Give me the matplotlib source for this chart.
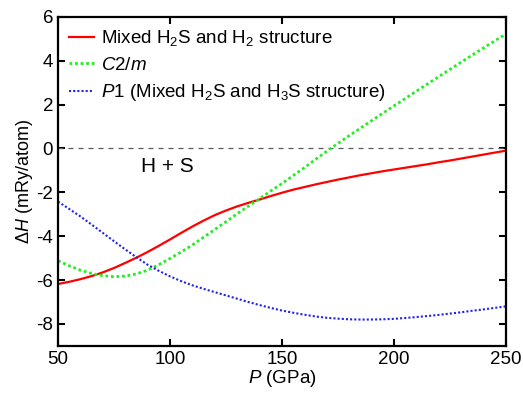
import numpy as np
import matplotlib
matplotlib.use('Agg')
import matplotlib.pyplot as plt

# pressure grid (GPa)
pressure = [50, 55, 60, 65, 70, 75, 80, 85, 90, 95, 100, 105, 110, 115, 120, 125, 130, 135, 140, 145,
            150, 155, 160, 165, 170, 175, 180, 185, 190, 195, 200, 205, 210, 215, 220, 225, 230, 235,
            240, 245, 250]

# enthalpy differences relative to H + S (mRy/atom)
dh_mixed_h2 = [-6.18, -6.08, -5.96, -5.82, -5.65, -5.45, -5.22, -4.98, -4.72, -4.44, -4.15, -3.85,
               -3.56, -3.29, -3.04, -2.83, -2.64, -2.48, -2.33, -2.17, -2.02, -1.88, -1.76, -1.64,
               -1.53, -1.42, -1.32, -1.22, -1.13, -1.04, -0.96, -0.88, -0.80, -0.72, -0.63, -0.55,
               -0.46, -0.37, -0.28, -0.19, -0.10]
dh_c2m = [-5.12, -5.35, -5.55, -5.70, -5.80, -5.85, -5.82, -5.72, -5.55, -5.30, -5.02, -4.72,
          -4.40, -4.05, -3.70, -3.34, -2.98, -2.63, -2.29, -1.94, -1.60, -1.24, -0.88, -0.50,
          -0.13, 0.23, 0.58, 0.92, 1.26, 1.60, 1.94, 2.27, 2.61, 2.94, 3.27, 3.60,
          3.93, 4.26, 4.58, 4.90, 5.22]
dh_p1 = [-2.42, -2.76, -3.10, -3.47, -3.85, -4.23, -4.60, -4.96, -5.30, -5.58, -5.83, -6.05,
         -6.24, -6.40, -6.55, -6.70, -6.85, -7.00, -7.14, -7.27, -7.39, -7.49, -7.58, -7.66,
         -7.72, -7.76, -7.79, -7.80, -7.80, -7.79, -7.77, -7.73, -7.69, -7.64, -7.59, -7.53,
         -7.47, -7.40, -7.34, -7.27, -7.20]

labels = ['Mixed H$_2$S and H$_2$ structure',
          '$\\it{C}$2/$\\it{m}$',
          '$\\it{P}$1 (Mixed H$_2$S and H$_3$S structure)']

xticks = [50, 100, 150, 200, 250]
yticks = [-8, -6, -4, -2, 0, 2, 4, 6]


def setFont(fontSize):
    params = {
              'font.size': fontSize,
              'font.family': 'Liberation Sans',
              'mathtext.fontset': 'custom',
              'mathtext.rm': 'Liberation Sans',
              'mathtext.it': 'Liberation Sans:italic',
              'mathtext.bf': 'Liberation Sans:bold',
              'axes.unicode_minus': False,
              }
    plt.rcParams.update(params)


setFont(13.5)
fig = plt.figure(figsize=(5.23, 3.93), dpi=100)
ax = fig.add_axes([0.111, 0.120, 0.856, 0.837])

ax.axhline(0, color='0.35', ls=(0, (4, 4)), lw=0.9)
ax.plot(pressure, dh_mixed_h2, color='#ff0000', lw=1.6, label=labels[0])
ax.plot(pressure, dh_c2m, color='#22ee22', lw=2.0, ls=(0, (1, 1)), label=labels[1])
ax.plot(pressure, dh_p1, color='#2222ee', lw=1.5, ls=(0, (1, 1)), label=labels[2])

ax.text(99, -0.8, 'H + S', ha='center', va='center', fontsize=15)

ax.set_xlim(50, 250)
ax.set_ylim(-9, 6)
ax.set_xticks(xticks)
ax.set_yticks(yticks)
ax.tick_params(direction='in', length=5, width=1.5, top=True, right=True, labelsize=13.5)
for sp in ax.spines.values():
    sp.set_linewidth(1.6)

ax.set_xlabel('$\\it{P}$ (GPa)', fontsize=13.5, labelpad=0)
ax.set_ylabel('$\\Delta$$\\it{H}$ (mRy/atom)', fontsize=13, labelpad=1)

ax.legend(loc='upper left', frameon=False, fontsize=13.5, handlelength=1.3,
          handletextpad=0.4, labelspacing=0.45, borderaxespad=0.2)

fig.savefig('out.png', dpi=100)
